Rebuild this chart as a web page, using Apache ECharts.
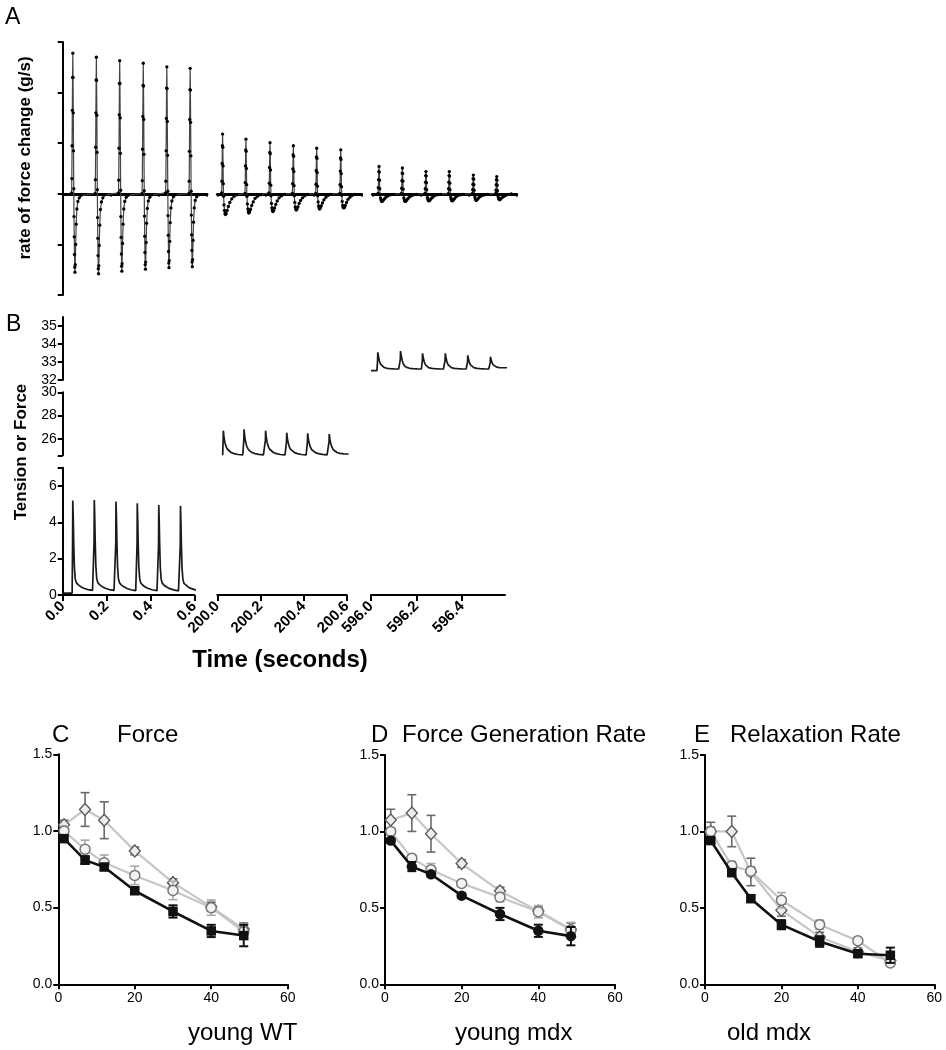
<!DOCTYPE html>
<html><head><meta charset="utf-8">
<script src="https://cdn.jsdelivr.net/npm/echarts@6/dist/echarts.min.js"></script>
<style>html,body{margin:0;padding:0;background:#fff}#c{width:946px;height:1050px}</style>
</head><body><div id="c"></div>
<script>
// ---------------- Panel A : rate of force change (arbitrary units, zero = baseline) ----------------
const aOffsets1 = [-0.005, -0.004, -0.003, -0.002, -0.001, 0, 0.001, 0.002, 0.003, 0.004, 0.005, 0.006, 0.007, 0.008, 0.009, 0.010, 0.012, 0.014, 0.017, 0.021, 0.027, 0.035];
const aOffsets2 = [-0.004, -0.003, -0.002, -0.001, 0, 0.001, 0.002, 0.003, 0.004, 0.006, 0.008, 0.010, 0.012, 0.015, 0.019, 0.024, 0.030, 0.038, 0.048, 0.060];
const aPeakTimes1 = [0.042, 0.140, 0.237, 0.335, 0.433, 0.530];
const aPeakTimes2 = [200.022, 200.119, 200.219, 200.316, 200.413, 200.513];
const aPeakTimes3 = [596.028, 596.125, 596.223, 596.320, 596.420, 596.517];
const aBeats1 = [
  [0.02, 0.30, 0.95, 1.65, 2.30, 2.78, 2.30, 1.60, 0.85, 0.10, -0.45, -0.85, -1.20, -1.45, -1.55, -1.40, -1.00, -0.60, -0.30, -0.15, -0.08, -0.03],
  [0.01, 0.28, 0.92, 1.60, 2.25, 2.70, 2.24, 1.55, 0.82, 0.08, -0.47, -0.88, -1.22, -1.48, -1.58, -1.42, -1.02, -0.62, -0.31, -0.16, -0.08, -0.02],
  [0.02, 0.27, 0.90, 1.56, 2.18, 2.63, 2.18, 1.50, 0.80, 0.07, -0.45, -0.86, -1.19, -1.43, -1.53, -1.38, -0.98, -0.60, -0.30, -0.15, -0.07, -0.03],
  [0.01, 0.26, 0.88, 1.53, 2.14, 2.58, 2.13, 1.47, 0.78, 0.06, -0.44, -0.84, -1.16, -1.40, -1.49, -1.35, -0.96, -0.58, -0.29, -0.14, -0.07, -0.02],
  [0.02, 0.25, 0.85, 1.49, 2.09, 2.51, 2.08, 1.43, 0.76, 0.05, -0.43, -0.82, -1.14, -1.37, -1.46, -1.32, -0.94, -0.57, -0.28, -0.14, -0.06, -0.02],
  [0.01, 0.25, 0.84, 1.47, 2.06, 2.48, 2.05, 1.41, 0.75, 0.05, -0.42, -0.81, -1.12, -1.35, -1.44, -1.30, -0.92, -0.56, -0.28, -0.13, -0.06, -0.02]
];
const aBeats2 = [
  [0.02, 0.25, 0.60, 0.95, 1.18, 0.92, 0.55, 0.20, -0.05, -0.22, -0.33, -0.39, -0.41, -0.39, -0.33, -0.25, -0.17, -0.10, -0.05, -0.02],
  [0.01, 0.22, 0.55, 0.87, 1.08, 0.84, 0.50, 0.18, -0.05, -0.20, -0.30, -0.36, -0.38, -0.36, -0.31, -0.23, -0.16, -0.09, -0.05, -0.02],
  [0.02, 0.21, 0.52, 0.82, 1.01, 0.79, 0.47, 0.17, -0.04, -0.19, -0.28, -0.33, -0.35, -0.33, -0.28, -0.21, -0.14, -0.08, -0.04, -0.01],
  [0.01, 0.20, 0.49, 0.77, 0.95, 0.74, 0.44, 0.16, -0.04, -0.17, -0.26, -0.30, -0.32, -0.30, -0.26, -0.19, -0.13, -0.08, -0.04, -0.01],
  [0.01, 0.19, 0.46, 0.73, 0.90, 0.70, 0.42, 0.15, -0.04, -0.16, -0.24, -0.28, -0.30, -0.28, -0.24, -0.18, -0.12, -0.07, -0.03, -0.01],
  [0.01, 0.18, 0.45, 0.71, 0.87, 0.68, 0.40, 0.14, -0.03, -0.15, -0.23, -0.27, -0.28, -0.27, -0.23, -0.17, -0.11, -0.07, -0.03, -0.01]
];
const aBeats3 = [
  [0.01, 0.12, 0.28, 0.44, 0.54, 0.43, 0.27, 0.10, -0.01, -0.08, -0.12, -0.14, -0.15, -0.14, -0.12, -0.09, -0.06, -0.04, -0.02, -0.01],
  [0.01, 0.11, 0.26, 0.41, 0.51, 0.40, 0.25, 0.09, -0.01, -0.08, -0.12, -0.14, -0.15, -0.14, -0.12, -0.09, -0.06, -0.04, -0.02, -0.01],
  [0.01, 0.10, 0.23, 0.36, 0.44, 0.35, 0.22, 0.08, -0.01, -0.07, -0.11, -0.13, -0.14, -0.13, -0.11, -0.08, -0.06, -0.03, -0.02, -0.01],
  [0.01, 0.10, 0.23, 0.36, 0.44, 0.35, 0.21, 0.08, -0.01, -0.07, -0.11, -0.13, -0.14, -0.13, -0.11, -0.08, -0.05, -0.03, -0.02, -0.01],
  [0.01, 0.08, 0.19, 0.30, 0.37, 0.29, 0.18, 0.07, -0.01, -0.06, -0.10, -0.12, -0.13, -0.12, -0.10, -0.07, -0.05, -0.03, -0.02, -0.01],
  [0.01, 0.07, 0.18, 0.28, 0.34, 0.27, 0.17, 0.06, -0.01, -0.06, -0.09, -0.11, -0.12, -0.11, -0.09, -0.07, -0.05, -0.03, -0.01, 0.00]
];

// ---------------- Panel B : Tension or Force ----------------
const bOffsets1 = [-0.003, -0.001, 0, 0.002, 0.004, 0.007, 0.011, 0.016, 0.024, 0.036, 0.050, 0.068, 0.090];
const bOffsets2 = [-0.003, -0.001, 0, 0.003, 0.007, 0.012, 0.018, 0.026, 0.036, 0.050, 0.068, 0.090];
const bOffsets3 = [-0.004, -0.001, 0, 0.003, 0.007, 0.012, 0.018, 0.027, 0.040, 0.055, 0.072, 0.092];
const bPeakTimes1 = [0.046, 0.144, 0.243, 0.340, 0.438, 0.537];
const bPeakTimes2 = [200.028, 200.124, 200.224, 200.322, 200.419, 200.519];
const bPeakTimes3 = [596.030, 596.130, 596.227, 596.327, 596.426, 596.526];
const bStart1 = [[0.0, 0.10]];
const bStart3 = [[596.0, 32.52]];
const bBeats1 = [
  [0.10, 2.80, 5.19, 4.30, 3.00, 1.60, 0.90, 0.68, 0.57, 0.46, 0.37, 0.30, 0.25],
  [0.24, 2.90, 5.23, 4.35, 3.05, 1.62, 0.91, 0.68, 0.57, 0.46, 0.37, 0.30, 0.25],
  [0.24, 2.85, 5.14, 4.25, 2.98, 1.58, 0.89, 0.67, 0.56, 0.45, 0.36, 0.29, 0.24],
  [0.23, 2.80, 5.05, 4.18, 2.92, 1.55, 0.88, 0.66, 0.55, 0.44, 0.36, 0.29, 0.24],
  [0.23, 2.75, 4.95, 4.10, 2.86, 1.52, 0.87, 0.65, 0.54, 0.44, 0.35, 0.28, 0.23],
  [0.23, 2.72, 4.90, 4.05, 2.83, 1.50, 0.86, 0.64, 0.54, 0.43, 0.35, 0.28, 0.24]
];
const bBeats2 = [
  [24.60, 25.90, 26.71, 26.15, 25.72, 25.38, 25.14, 24.97, 24.84, 24.74, 24.67, 24.63],
  [24.63, 25.95, 26.83, 26.25, 25.78, 25.42, 25.16, 24.98, 24.85, 24.75, 24.68, 24.63],
  [24.63, 25.90, 26.71, 26.15, 25.72, 25.38, 25.14, 24.97, 24.84, 24.74, 24.67, 24.63],
  [24.63, 25.80, 26.54, 26.05, 25.65, 25.33, 25.11, 24.95, 24.83, 24.74, 24.67, 24.63],
  [24.63, 25.78, 26.49, 26.02, 25.63, 25.32, 25.10, 24.95, 24.83, 24.74, 24.68, 24.64],
  [24.64, 25.75, 26.43, 25.98, 25.61, 25.31, 25.10, 24.95, 24.84, 24.77, 24.73, 24.71]
];
const bBeats3 = [
  [32.52, 33.10, 33.54, 33.30, 33.06, 32.88, 32.77, 32.70, 32.65, 32.63, 32.62, 32.61],
  [32.61, 33.15, 33.61, 33.36, 33.10, 32.90, 32.78, 32.70, 32.65, 32.63, 32.62, 32.61],
  [32.61, 33.08, 33.48, 33.26, 33.03, 32.86, 32.76, 32.69, 32.65, 32.63, 32.62, 32.61],
  [32.61, 33.08, 33.48, 33.26, 33.03, 32.86, 32.76, 32.69, 32.65, 32.63, 32.62, 32.61],
  [32.61, 33.00, 33.37, 33.18, 32.98, 32.84, 32.75, 32.69, 32.65, 32.63, 32.62, 32.61],
  [32.61, 32.95, 33.29, 33.12, 32.96, 32.84, 32.77, 32.72, 32.69, 32.68, 32.68, 32.68]
];
const bTicksX1 = [0, 0.2, 0.4, 0.6];
const bTicksX2 = [200.0, 200.2, 200.4, 200.6];
const bTicksX3 = [596.0, 596.2, 596.4];
const bTicksY1 = [0, 2, 4, 6, 7];
const bLabelsY1 = [0, 2, 4, 6];
const bTicksY2 = [24.6, 26, 28, 30];
const bLabelsY2 = [26, 28, 30];
const bTicksY3 = [32, 33, 34, 35];

// ---------------- Panels C, D, E ----------------
const timeX = [1.5, 7, 12, 20, 30, 40, 48.5];
const cBlack = [0.95, 0.81, 0.765, 0.61, 0.475, 0.348, 0.318];
const cBlackErr = [0.015, 0.025, 0.02, 0.02, 0.04, 0.04, 0.07];
const cCircle = [1.0, 0.88, 0.793, 0.71, 0.612, 0.5, 0.343];
const cCircleErr = [0.03, 0.06, 0.05, 0.06, 0.06, 0.05, 0.05];
const cDiamond = [1.04, 1.14, 1.07, 0.87, 0.663, 0.505, 0.36];
const cDiamondErr = [0.03, 0.11, 0.12, 0.025, 0.025, 0.03, 0.04];

const dBlack = [0.94, 0.77, 0.72, 0.58, 0.46, 0.35, 0.315];
const dBlackErr = [0.015, 0.03, 0.015, 0.015, 0.04, 0.04, 0.06];
const dCircle = [1.0, 0.825, 0.75, 0.66, 0.57, 0.475, 0.355];
const dCircleErr = [0.02, 0.02, 0.04, 0.015, 0.03, 0.04, 0.05];
const dDiamond = [1.075, 1.12, 0.985, 0.79, 0.61, 0.48, 0.36];
const dDiamondErr = [0.07, 0.12, 0.12, 0.025, 0.025, 0.025, 0.04];

const eBlack = [0.94, 0.73, 0.56, 0.39, 0.28, 0.2, 0.19];
const eBlackErr = [0.015, 0.02, 0.02, 0.03, 0.035, 0.02, 0.05];
const eCircle = [1.0, 0.775, 0.74, 0.55, 0.39, 0.285, 0.14];
const eCircleErr = [0.03, 0.03, 0.03, 0.05, 0.03, 0.02, 0.02];
const eDiamond = [1.0, 1.0, 0.735, 0.485, 0.31, 0.213, 0.155];
const eDiamondErr = [0.06, 0.1, 0.09, 0.04, 0.03, 0.025, 0.03];

const xTicksCDE = [0, 20, 40, 60];
const yTicksCDE = [0, 0.5, 1.0, 1.5];

// ---------------- build ----------------
const FONT = '"Liberation Sans", Arial, Helvetica, sans-serif';

function buildTrace(peakTimes, offsets, beats, lead) {
  const out = lead ? lead.slice() : [];
  beats.forEach((vals, i) => {
    vals.forEach((v, j) => out.push([+(peakTimes[i] + offsets[j]).toFixed(4), v]));
  });
  return out;
}

const grids = [
  {left: 62.7, top: 42, width: 144.3, height: 253},    // A1
  {left: 217.3, top: 42, width: 144.4, height: 253},   // A2
  {left: 372.3, top: 42, width: 144.4, height: 253},   // A3
  {left: 62.7, top: 467.7, width: 131.6, height: 127.3}, // B1
  {left: 217.3, top: 392.3, width: 129.4, height: 63}, // B2
  {left: 371, top: 317, width: 134, height: 63},       // B3
  {left: 58.3, top: 754.3, width: 229.4, height: 230}, // C
  {left: 385, top: 755, width: 230, height: 229.3},    // D
  {left: 705, top: 755, width: 229.3, height: 229.3}   // E
];

const blackLine = {color: '#000', width: 2};
function aX(gi, min, max, ticks) {
  return {gridIndex: gi, type: 'value', min, max,
    axisLine: {show: true, onZero: true, lineStyle: {color: '#000', width: 2.8}},
    axisTick: {show: true, customValues: ticks, length: 3, lineStyle: {color: '#000', width: 1.5}},
    axisLabel: {show: false}, splitLine: {show: false}};
}
function bX(gi, min, max, ticks, offset) {
  return {gridIndex: gi, type: 'value', min, max, offset: offset || 0,
    axisLine: {show: true, onZero: false, lineStyle: blackLine},
    axisTick: {show: true, customValues: ticks, length: 6, lineStyle: blackLine},
    axisLabel: {show: true, customValues: ticks, rotate: 45, margin: 9,
      formatter: v => Number(v).toFixed(1),
      fontFamily: FONT, fontWeight: 'bold', fontSize: 15, color: '#000'},
    splitLine: {show: false}};
}
function bY(gi, min, max, ticks, labels, offset) {
  return {gridIndex: gi, type: 'value', min, max, offset: offset || 0,
    axisLine: {show: true, onZero: false, lineStyle: blackLine},
    axisTick: {show: true, customValues: ticks, length: 5, lineStyle: blackLine},
    axisLabel: {show: true, customValues: labels, margin: 6,
      fontFamily: FONT, fontSize: 14, color: '#000'},
    splitLine: {show: false}};
}
function cdeX(gi) {
  return {gridIndex: gi, type: 'value', min: 0, max: 60,
    axisLine: {show: true, onZero: false, lineStyle: blackLine},
    axisTick: {show: true, customValues: xTicksCDE, length: 5, lineStyle: blackLine},
    axisLabel: {show: true, customValues: xTicksCDE, margin: 7, fontFamily: FONT, fontSize: 14, color: '#000'},
    splitLine: {show: false}};
}
function cdeY(gi) {
  return {gridIndex: gi, type: 'value', min: 0, max: 1.5,
    axisLine: {show: true, onZero: false, lineStyle: blackLine},
    axisTick: {show: true, customValues: yTicksCDE, length: 5, lineStyle: blackLine},
    axisLabel: {show: true, customValues: yTicksCDE, margin: 6, formatter: v => Number(v).toFixed(1),
      fontFamily: FONT, fontSize: 14, color: '#000'},
    splitLine: {show: false}};
}

const xAxes = [
  aX(0, 0, 0.6, [0, 0.2, 0.4, 0.6]),
  aX(1, 200, 200.6, [200, 200.2, 200.4, 200.6]),
  aX(2, 596, 596.6, [596, 596.2, 596.4, 596.6]),
  bX(3, 0, 0.6, bTicksX1, 0),
  bX(4, 200, 200.6, bTicksX2, 595 - 455.3),
  bX(5, 596, 596.59, bTicksX3, 595 - 380),
  cdeX(6), cdeX(7), cdeX(8)
];
const yAxes = [
  {gridIndex: 0, type: 'value', min: -2, max: 3, interval: 1,
    axisLine: {show: true, onZero: false, lineStyle: blackLine},
    axisTick: {show: true, length: 5, lineStyle: blackLine},
    axisLabel: {show: false}, splitLine: {show: false}},
  {gridIndex: 1, type: 'value', min: -2, max: 3, show: false},
  {gridIndex: 2, type: 'value', min: -2, max: 3, show: false},
  bY(3, 0, 7, bTicksY1, bLabelsY1, 0),
  bY(4, 24.6, 30, bTicksY2, bLabelsY2, 217.3 - 62.7),
  bY(5, 32, 35.5, bTicksY3, bTicksY3, 371 - 62.7),
  cdeY(6), cdeY(7), cdeY(8)
];

const series = [];
function aSeries(gi, data) {
  series.push({type: 'line', xAxisIndex: gi, yAxisIndex: gi, data, showSymbol: true, showAllSymbol: true,
    symbol: 'circle', symbolSize: 3.3, itemStyle: {color: '#000'},
    lineStyle: {color: '#444', width: 1.2}, animation: false, silent: true, z: 3});
}
aSeries(0, buildTrace(aPeakTimes1, aOffsets1, aBeats1));
aSeries(1, buildTrace(aPeakTimes2, aOffsets2, aBeats2));
aSeries(2, buildTrace(aPeakTimes3, aOffsets2, aBeats3));

function bSeries(gi, data) {
  series.push({type: 'line', xAxisIndex: gi, yAxisIndex: gi, data, showSymbol: false,
    lineStyle: {color: '#1a1a1a', width: 1.7}, animation: false, silent: true, clip: true});
}
bSeries(3, buildTrace(bPeakTimes1, bOffsets1, bBeats1, bStart1));
bSeries(4, buildTrace(bPeakTimes2, bOffsets2, bBeats2));
bSeries(5, buildTrace(bPeakTimes3, bOffsets3, bBeats3, bStart3));

function errRender(color, lw, capHalf) {
  return function (params, api) {
    const x = api.value(0), y = api.value(1), e = api.value(2);
    const hi = api.coord([x, y + e]), lo = api.coord([x, y - e]);
    const st = {stroke: color, lineWidth: lw};
    return {type: 'group', children: [
      {type: 'line', shape: {x1: hi[0], y1: hi[1], x2: lo[0], y2: lo[1]}, style: st},
      {type: 'line', shape: {x1: hi[0] - capHalf, y1: hi[1], x2: hi[0] + capHalf, y2: hi[1]}, style: st},
      {type: 'line', shape: {x1: lo[0] - capHalf, y1: lo[1], x2: lo[0] + capHalf, y2: lo[1]}, style: st}
    ]};
  };
}
function panel(gi, black, blackErr, blackSym, circ, circErr, dia, diaErr) {
  const pts = (vals) => timeX.map((x, i) => [x, vals[i]]);
  const errs = (vals, errv) => timeX.map((x, i) => [x, vals[i], errv[i]]);
  series.push({type: 'custom', xAxisIndex: gi, yAxisIndex: gi, data: errs(dia, diaErr),
    renderItem: errRender('#6a6a6a', 1.6, 4.5), encode: {x: 0, y: 1}, animation: false, silent: true, z: 2});
  series.push({type: 'line', xAxisIndex: gi, yAxisIndex: gi, data: pts(dia), symbol: 'diamond', symbolSize: [11, 12],
    lineStyle: {color: '#c6c6c6', width: 2.2}, itemStyle: {color: '#ececec', borderColor: '#5a5a5a', borderWidth: 1.4},
    animation: false, silent: true, z: 3});
  series.push({type: 'custom', xAxisIndex: gi, yAxisIndex: gi, data: errs(circ, circErr),
    renderItem: errRender('#a9a9a9', 1.6, 4.5), encode: {x: 0, y: 1}, animation: false, silent: true, z: 4});
  series.push({type: 'line', xAxisIndex: gi, yAxisIndex: gi, data: pts(circ), symbol: 'circle', symbolSize: 10,
    lineStyle: {color: '#c6c6c6', width: 2.2}, itemStyle: {color: '#f4f4f4', borderColor: '#767676', borderWidth: 1.5},
    animation: false, silent: true, z: 5});
  series.push({type: 'custom', xAxisIndex: gi, yAxisIndex: gi, data: errs(black, blackErr),
    renderItem: errRender('#111', 2, 4.5), encode: {x: 0, y: 1}, animation: false, silent: true, z: 6});
  series.push({type: 'line', xAxisIndex: gi, yAxisIndex: gi, data: pts(black), symbol: blackSym,
    symbolSize: blackSym === 'rect' ? 9.5 : 10.5,
    lineStyle: {color: '#111', width: 2.6}, itemStyle: {color: '#111'},
    animation: false, silent: true, z: 7});
}
panel(6, cBlack, cBlackErr, 'rect', cCircle, cCircleErr, cDiamond, cDiamondErr);
panel(7, dBlack, dBlackErr, 'circle', dCircle, dCircleErr, dDiamond, dDiamondErr);
panel(8, eBlack, eBlackErr, 'rect', eCircle, eCircleErr, eDiamond, eDiamondErr);

function txt(text, x, y, size, opts) {
  opts = opts || {};
  return {type: 'text', x, y, rotation: opts.rotation || 0, silent: true,
    style: {text, fill: '#000', font: (opts.bold ? 'bold ' : '') + size + 'px ' + FONT,
      textAlign: opts.align || 'left', textVerticalAlign: 'middle',
      align: opts.align || 'left', verticalAlign: 'middle'}};
}
const graphics = [
  txt('A', 5, 18, 23),
  txt('B', 6, 325, 23),
  txt('rate of force change (g/s)', 25, 158, 17, {bold: true, rotation: Math.PI / 2, align: 'center'}),
  txt('Tension or Force', 21.5, 452, 17, {bold: true, rotation: Math.PI / 2, align: 'center'}),
  txt('Time (seconds)', 280, 660, 24, {bold: true, align: 'center'}),
  txt('C', 52, 735, 24),
  txt('Force', 117, 735, 24),
  txt('D', 371, 735, 24),
  txt('Force Generation Rate', 402, 735, 24),
  txt('E', 694, 735, 24),
  txt('Relaxation Rate', 730, 735, 24),
  txt('young WT', 188, 1033, 24),
  txt('young mdx', 455, 1033, 24),
  txt('old mdx', 727, 1033, 24)
];

const chart = echarts.init(document.getElementById('c'), null, {renderer: 'canvas', width: 946, height: 1050});
chart.setOption({
  backgroundColor: '#fff',
  animation: false,
  grid: grids,
  xAxis: xAxes,
  yAxis: yAxes,
  series,
  graphic: graphics
});
</script>
</body></html>
